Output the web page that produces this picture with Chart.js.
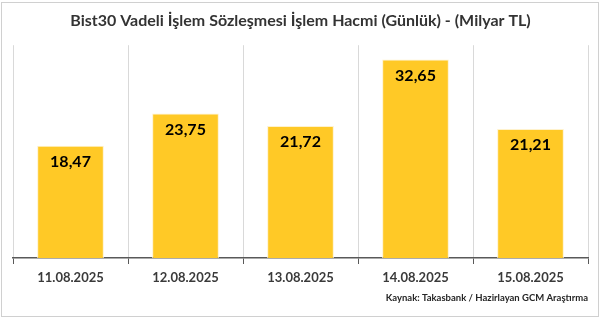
<!DOCTYPE html>
<html>
<head>
<meta charset="utf-8">
<script src="https://cdn.jsdelivr.net/npm/chart.js@4"></script>
<style>
  html, body { margin: 0; padding: 0; background: #fff; }
  #wrap { position: relative; width: 602px; height: 319px; }
  #frame { position: absolute; left: 1px; top: 2px; width: 596px; height: 313px; border: 1px solid #d0d0d0; pointer-events: none; }
</style>
</head>
<body>
<div id="wrap">
  <canvas id="ChartCanvas1" width="602" height="319"></canvas>
  <div id="frame"></div>
</div>
<script>
const categories = ['11.08.2025', '12.08.2025', '13.08.2025', '14.08.2025', '15.08.2025'];
const volumes = [18.47, 23.75, 21.72, 32.65, 21.21];
const chartTitle = 'Bist30 Vadeli İşlem Sözleşmesi İşlem Hacmi (Günlük) - (Milyar TL)';
const sourceNote = 'Kaynak: Takasbank / Hazirlayan GCM Araştırma';

const FONT = 'Lato, "Open Sans", sans-serif';

// writes the value inside the top of each bar, comma decimal
const barLabels = {
    id: 'barLabels',
    afterDatasetsDraw(chart)
    {
        const ctx = chart.ctx;
        const meta = chart.getDatasetMeta(0);
        ctx.save();
        ctx.font = 'bold 16px ' + FONT;
        ctx.fillStyle = '#000';
        ctx.textAlign = 'center';
        ctx.textBaseline = 'middle';
        meta.data.forEach((bar, i) => {
            const txt = volumes[i].toFixed(2).replace('.', ',');
            ctx.fillText(txt, bar.x, bar.y + 16);
        });
        ctx.restore();
    }
};

new Chart(document.getElementById('ChartCanvas1').getContext('2d'), {
    type: 'bar',
    data: {
        labels: categories,
        datasets: [{
            data: volumes,
            backgroundColor: '#ffc926',
            borderColor: '#fff2cc',
            borderWidth: 1,
            categoryPercentage: 1,
            barPercentage: 0.58
        }]
    },
    options: {
        responsive: false,
        animation: false,
        layout: { padding: { left: 13, right: 14, top: 0, bottom: 0 } },
        plugins: {
            legend: { display: false },
            tooltip: { enabled: false },
            title: {
                display: true,
                text: chartTitle,
                color: '#333333',
                font: { family: FONT, size: 16, weight: 'bold' },
                padding: { top: 11, bottom: 15 }
            },
            subtitle: {
                display: true,
                position: 'bottom',
                align: 'end',
                text: sourceNote,
                color: '#262626',
                font: { family: FONT, size: 9.5, weight: 'bold' },
                padding: { top: 1, bottom: 15 }
            }
        },
        scales: {
            x: {
                grid: {
                    offset: true,
                    color: '#d9d9d9',
                    tickColor: '#595959',
                    tickLength: 6
                },
                border: { display: true, color: '#595959', width: 1.5 },
                ticks: {
                    color: '#3a3a3a',
                    font: { family: FONT, size: 13, weight: 'bold' },
                    padding: 6
                }
            },
            y: {
                display: false,
                min: 0,
                max: 35
            }
        }
    },
    plugins: [barLabels]
});
</script>
</body>
</html>
